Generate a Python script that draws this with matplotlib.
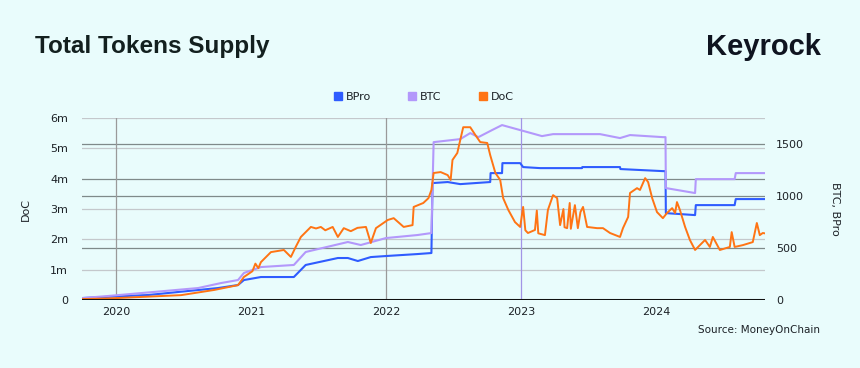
import matplotlib
matplotlib.use("Agg")
import matplotlib.pyplot as plt
import matplotlib.transforms as mtransforms
from matplotlib.lines import Line2D
import pandas as pd

# BTC supply (right axis)
btc_dates = ["2019-10-03", "2019-12-09", "2020-08-10", "2020-10-11", "2020-11-26", "2020-12-12",
             "2021-01-27", "2021-04-26", "2021-05-28", "2021-09-19", "2021-10-24", "2021-12-31",
             "2022-03-26", "2022-05-03", "2022-05-09", "2022-07-20", "2022-08-16", "2022-09-07",
             "2022-10-14", "2022-11-10", "2022-12-29", "2023-02-26", "2023-03-28", "2023-08-02",
             "2023-09-25", "2023-10-22", "2024-01-19", "2024-01-26", "2024-01-27", "2024-04-15",
             "2024-04-17", "2024-07-31", "2024-08-03", "2024-10-20"]
btc_vals = [19, 38, 115, 163, 192, 260,
            317, 337, 462, 558, 529, 596,
            625, 644, 1519, 1548, 1606, 1567,
            1635, 1683, 1635, 1577, 1596, 1596,
            1558, 1587, 1567, 1567, 1077, 1029,
            1163, 1163, 1221, 1221]

# BPro supply (right axis)
bpro_dates = ["2019-10-03", "2020-03-28", "2020-08-10", "2020-10-03", "2020-11-26", "2020-12-12",
              "2021-01-27", "2021-04-26", "2021-05-28", "2021-08-23", "2021-09-19", "2021-10-16",
              "2021-11-20", "2021-12-31", "2022-03-26", "2022-05-03", "2022-05-06", "2022-06-16",
              "2022-07-20", "2022-10-09", "2022-10-10", "2022-11-10", "2022-11-11", "2022-12-29",
              "2023-01-06", "2023-02-21", "2023-06-14", "2023-06-15", "2023-09-25", "2023-09-26",
              "2024-01-19", "2024-01-26", "2024-01-27", "2024-04-15", "2024-04-17", "2024-07-31",
              "2024-08-03", "2024-10-20"]
bpro_vals = [19, 48, 96, 115, 144, 192,
             221, 221, 337, 404, 404, 375,
             413, 423, 442, 452, 1125, 1135,
             1115, 1135, 1221, 1221, 1317, 1317,
             1279, 1269, 1269, 1279, 1279, 1260,
             1240, 1240, 836, 817, 913, 913,
             971, 971]

# DoC supply in millions (left axis)
doc_dates = ["2019-10-03", "2019-12-09", "2020-06-25", "2020-09-22", "2020-11-26", "2020-12-12",
             "2021-01-04", "2021-01-12", "2021-01-20", "2021-01-27", "2021-02-23", "2021-03-30",
             "2021-04-18", "2021-05-01", "2021-05-15", "2021-06-11", "2021-06-25", "2021-07-08",
             "2021-07-20", "2021-08-09", "2021-08-23", "2021-09-08", "2021-09-27", "2021-10-15",
             "2021-11-07", "2021-11-20", "2021-12-04",
             "2022-01-05", "2022-01-21", "2022-02-17", "2022-03-13", "2022-03-16", "2022-04-11",
             "2022-04-25", "2022-05-03", "2022-05-09", "2022-05-28", "2022-06-16", "2022-06-24",
             "2022-06-29", "2022-07-12", "2022-07-20", "2022-07-28", "2022-08-16", "2022-08-30",
             "2022-09-12", "2022-10-01", "2022-10-09", "2022-10-23", "2022-11-05", "2022-11-13",
             "2022-11-27", "2022-12-15", "2022-12-29", "2023-01-06", "2023-01-12", "2023-01-19",
             "2023-02-07", "2023-02-12", "2023-02-16", "2023-03-06", "2023-03-14", "2023-03-28",
             "2023-04-08", "2023-04-16", "2023-04-25", "2023-04-28", "2023-05-05", "2023-05-12",
             "2023-05-15", "2023-05-26", "2023-06-03", "2023-06-10", "2023-06-17", "2023-06-28",
             "2023-07-25", "2023-08-10", "2023-08-29", "2023-09-25", "2023-10-03", "2023-10-17",
             "2023-10-22", "2023-11-10", "2023-11-18", "2023-12-02", "2023-12-10", "2023-12-21",
             "2024-01-03", "2024-01-19", "2024-01-30", "2024-02-13", "2024-02-21", "2024-02-26",
             "2024-03-05", "2024-03-19", "2024-04-01", "2024-04-15", "2024-04-28", "2024-05-12",
             "2024-05-25", "2024-06-02", "2024-06-21", "2024-07-18", "2024-07-23", "2024-07-31",
             "2024-08-22", "2024-09-18", "2024-09-29", "2024-10-07", "2024-10-15", "2024-10-20"]
doc_vals = [0.03, 0.05, 0.16, 0.33, 0.49, 0.76,
            0.95, 1.20, 1.05, 1.25, 1.58, 1.65,
            1.42, 1.75, 2.08, 2.41, 2.36, 2.41,
            2.30, 2.41, 2.08, 2.37, 2.27, 2.38,
            2.41, 1.88, 2.37,
            2.64, 2.70, 2.41, 2.47, 3.07, 3.20,
            3.36, 3.63, 4.19, 4.22, 4.12, 3.96,
            4.62, 4.85, 5.28, 5.70, 5.70, 5.44,
            5.21, 5.18, 4.78, 4.19, 3.96, 3.36,
            2.97, 2.57, 2.41, 3.07, 2.30, 2.21,
            2.31, 2.95, 2.20, 2.14, 2.97, 3.46,
            3.36, 2.47, 3.00, 2.40, 2.37, 3.20,
            2.35, 3.13, 2.37, 2.90, 3.07, 2.41,
            2.37, 2.37, 2.21, 2.08, 2.37, 2.74,
            3.53, 3.69, 3.63, 4.02, 3.89, 3.36,
            2.90, 2.70, 2.87, 3.03, 2.87, 3.23,
            2.97, 2.41, 1.98, 1.65, 1.81, 1.98,
            1.75, 2.08, 1.65, 1.75, 2.24, 1.75,
            1.81, 1.91, 2.54, 2.14, 2.21, 2.20]

year_ticks = ["2020", "2021", "2022", "2023", "2024"]
left_ticks = [0, 1, 2, 3, 4, 5, 6]
left_labels = ["0", "1m", "2m", "3m", "4m", "5m", "6m"]
right_ticks = [0, 500, 1000, 1500]

bg = "#e9fcfc"
c_bpro = "#2f5cff"
c_btc = "#b398fb"
c_doc = "#ff7414"
txt = "#1c2126"

fig = plt.figure(figsize=(8.6, 3.68), dpi=100, facecolor=bg)
ax2 = fig.add_axes([0.0953, 0.1848, 0.7942, 0.4942])
ax = ax2.twinx()
ax2.yaxis.tick_right()
ax.yaxis.tick_left()
ax.set_zorder(ax2.get_zorder() + 1)
ax.patch.set_visible(False)
ax2.set_facecolor(bg)

ax.set_ylim(0, 6)
ax2.set_ylim(0, 1750)
ax2.set_xlim(pd.Timestamp("2019-10-01"), pd.Timestamp("2024-10-21"))

# grid lines (drawn under the series)
left_tr = mtransforms.blended_transform_factory(ax2.transAxes, ax.transData)
for v in left_ticks[1:]:
    col = "#7f8a8a" if v == 4 else "#c4c8cc"
    ax2.plot([0, 1], [v, v], transform=left_tr, color=col, lw=0.9, zorder=0)
for v in right_ticks[1:]:
    ax2.axhline(v, color="#7f8a8a", lw=0.9, zorder=0)
for y, col in [("2020", "#9a9a9a"), ("2022", "#9a9a9a"), ("2023", "#a294e6")]:
    ax2.axvline(pd.Timestamp(y + "-01-01"), color=col, lw=0.9, zorder=0)

ax2.plot(pd.to_datetime(bpro_dates), bpro_vals, color=c_bpro, lw=1.5, zorder=2)
ax2.plot(pd.to_datetime(btc_dates), btc_vals, color=c_btc, lw=1.5, zorder=2)
ax.plot(pd.to_datetime(doc_dates), doc_vals, color=c_doc, lw=1.4, zorder=3)
ax.axhline(0, color="#111111", lw=2.2, zorder=5)

for a in (ax, ax2):
    for s in a.spines.values():
        s.set_visible(False)
    a.tick_params(length=0, labelsize=8, colors=txt)

ax.set_yticks(left_ticks)
ax.set_yticklabels(left_labels)
ax.tick_params(axis="y", pad=10)
ax2.set_yticks(right_ticks)
ax2.tick_params(axis="y", pad=8)
ax2.set_xticks(pd.to_datetime([y + "-01-01" for y in year_ticks]))
ax2.set_xticklabels(year_ticks)
ax2.tick_params(axis="x", pad=5)

ax.set_ylabel("DoC", fontsize=8, color=txt, labelpad=14)
ax.yaxis.set_label_position("left")
ax2.set_ylabel("BTC, BPro", fontsize=8, color=txt, rotation=-90, labelpad=26)
ax2.yaxis.set_label_position("right")

fig.text(0.041, 0.875, "Total Tokens Supply", fontsize=17.5, fontweight="bold",
         color="#13201f", family="Liberation Sans", va="center", ha="left")
fig.text(0.954, 0.872, "Keyrock", fontsize=21, fontweight="bold",
         color="#0f1420", family="Liberation Sans", va="center", ha="right")
fig.text(0.953, 0.103, "Source: MoneyOnChain", fontsize=7.5, color=txt,
         va="center", ha="right")

handles = [Line2D([], [], marker="s", ls="", color=c, markersize=6) for c in (c_bpro, c_btc, c_doc)]
fig.legend(handles, ["BPro", "BTC", "DoC"], loc="center", bbox_to_anchor=(0.492, 0.737),
           ncol=3, frameon=False, fontsize=8, columnspacing=3.2, handletextpad=0.2,
           handlelength=1.0, labelcolor=txt)

fig.savefig("out.png", dpi=100, facecolor=bg)
